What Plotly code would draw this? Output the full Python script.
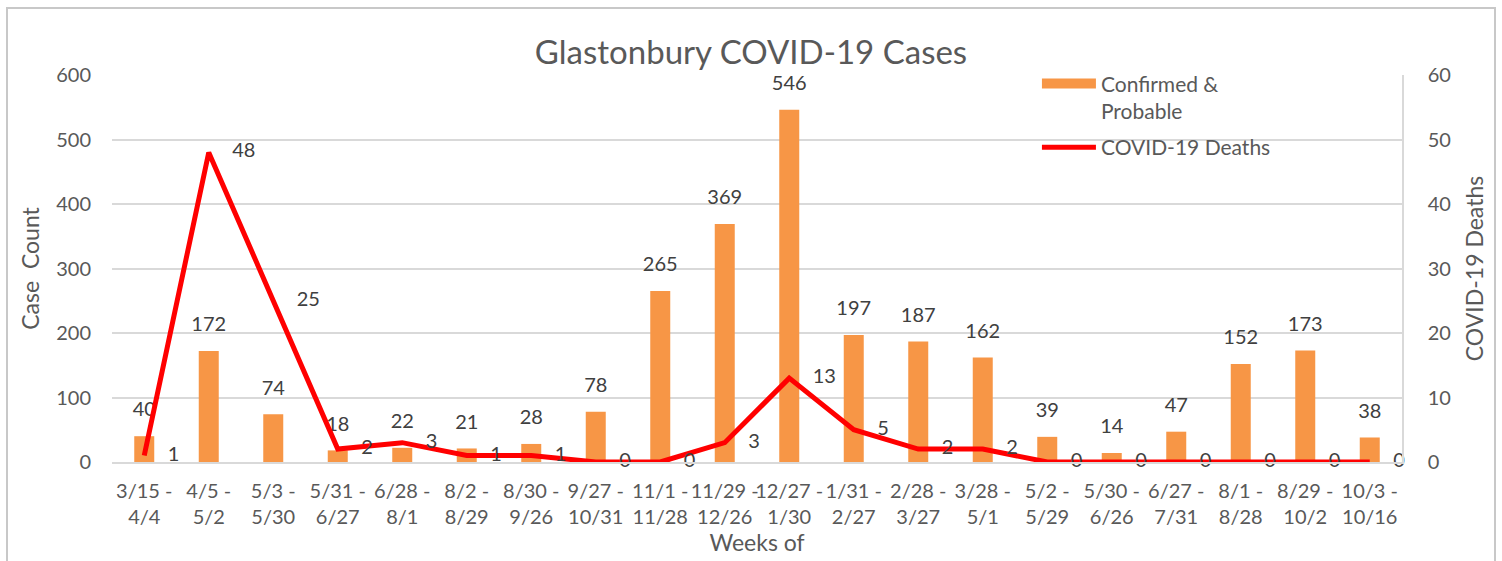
import plotly.graph_objects as go

categories = ["3/15 -<br>4/4", "4/5 -<br>5/2", "5/3 -<br>5/30", "5/31 -<br>6/27", "6/28 -<br>8/1",
              "8/2 -<br>8/29", "8/30 -<br>9/26", "9/27 -<br>10/31", "11/1 -<br>11/28", "11/29 -<br>12/26",
              "12/27 -<br>1/30", "1/31 -<br>2/27", "2/28 -<br>3/27", "3/28 -<br>5/1", "5/2 -<br>5/29",
              "5/30 -<br>6/26", "6/27 -<br>7/31", "8/1 -<br>8/28", "8/29 -<br>10/2", "10/3 -<br>10/16"]
cases = [40, 172, 74, 18, 22, 21, 28, 78, 265, 369, 546, 197, 187, 162, 39, 14, 47, 152, 173, 38]
deaths = [1, 48, 25, 2, 3, 1, 1, 0, 0, 3, 13, 5, 2, 2, 0, 0, 0, 0, 0, 0]

FONT = "Lato"
GRAY = "#595959"
LABEL = "#404040"
GRID = "#D9D9D9"
ORANGE = "#F79646"
RED = "#FF0000"

fig = go.Figure()
fig.add_trace(go.Bar(x=categories, y=cases, name="Confirmed &<br>Probable", showlegend=False,
                     marker=dict(color=ORANGE, line=dict(width=0)), width=0.31))
# legend swatch for the bars (wide rectangle like the original)
fig.add_trace(go.Scatter(x=[None], y=[None], mode="lines", name="Confirmed &<br>Probable",
                         legendgroup="a", line=dict(color=ORANGE, width=13)))
fig.add_trace(go.Scatter(x=categories, y=cases, mode="markers+text", text=[str(v) for v in cases],
                         textposition="top center", marker=dict(size=22, color="rgba(0,0,0,0)"),
                         textfont=dict(family=FONT, size=20, color=LABEL), cliponaxis=False,
                         showlegend=False, hoverinfo="skip"))
fig.add_trace(go.Scatter(x=categories, y=deaths, mode="lines", name="COVID-19 Deaths", legendgroup="b",
                         line=dict(color=RED, width=5), yaxis="y2"))
fig.add_trace(go.Scatter(x=categories, y=deaths, mode="markers+text", text=[str(v) for v in deaths],
                         textposition="middle right", marker=dict(size=36, color="rgba(0,0,0,0)"),
                         textfont=dict(family=FONT, size=20, color=LABEL), cliponaxis=False,
                         showlegend=False, hoverinfo="skip", yaxis="y2"))

# outer chart frame (decorative)
fx0, fx1, fyt, fyb = -0.0814, 1.0721, 1.1731, -0.29
fig.add_shape(type="path", xref="paper", yref="paper",
              path=f"M{fx0},{fyb} L{fx0},{fyt} L{fx1},{fyt} L{fx1},{fyb}",
              line=dict(color="#C8C8C8", width=2))

fig.update_layout(
    width=1502, height=561,
    margin=dict(l=112, r=100, t=75, b=99),
    paper_bgcolor="white", plot_bgcolor="white",
    font=dict(family=FONT, color=GRAY, size=20),
    title=dict(text="Glastonbury COVID-19 Cases", x=0.5, xref="container", xanchor="center",
               y=1 - 52 / 561, yref="container", yanchor="middle",
               font=dict(family=FONT, size=33, color=GRAY)),
    showlegend=True,
    legend=dict(x=0.717, y=1.03, xanchor="left", yanchor="top", bgcolor="rgba(0,0,0,0)",
                font=dict(family=FONT, size=21, color=GRAY), tracegroupgap=6,
                itemwidth=54, valign="top"),
    xaxis=dict(type="category", range=[-0.5, 19.5], showgrid=False, showline=True, linecolor=GRID,
               linewidth=1.5, ticks="", tickfont=dict(family=FONT, size=20, color=GRAY),
               ticklabelstandoff=10,
               title=dict(text="Weeks of", font=dict(family=FONT, size=23, color=GRAY), standoff=2),
               automargin=False, tickangle=0),
    yaxis=dict(range=[0, 600], dtick=100, showgrid=True, gridcolor=GRID, gridwidth=1.5,
               zeroline=False, ticks="", tickfont=dict(family=FONT, size=20, color=GRAY),
               ticklabelstandoff=20,
               title=dict(text="Case\u00a0 Count", font=dict(family=FONT, size=23, color=GRAY), standoff=10),
               automargin=False),
    yaxis2=dict(range=[0, 60], dtick=10, overlaying="y", side="right", showgrid=False,
                zeroline=False, showline=True, linecolor=GRID, linewidth=1.5, ticks="",
                tickfont=dict(family=FONT, size=20, color=GRAY), ticklabelstandoff=20,
                title=dict(text="COVID-19 Deaths", font=dict(family=FONT, size=23, color=GRAY), standoff=17),
                automargin=False),
)

fig.write_html("out.html", config={"displayModeBar": False},
               post_script="document.body.style.margin='0';document.body.style.padding='0';")
